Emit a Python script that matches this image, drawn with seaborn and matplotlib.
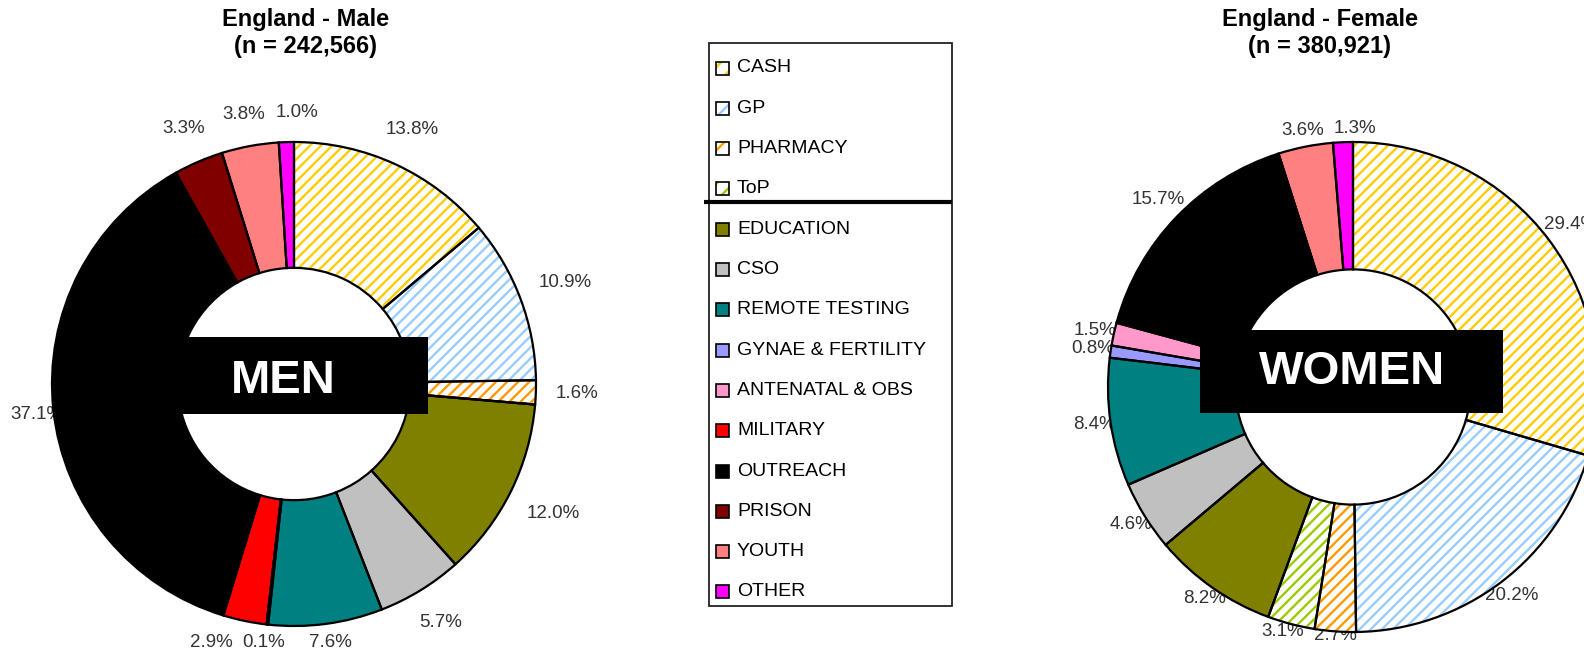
import matplotlib
matplotlib.use('Agg')
import matplotlib.pyplot as plt
from matplotlib.patches import Wedge, Rectangle
import numpy as np
import seaborn as sns

# Data
categories = ["CASH", "GP", "PHARMACY", "ToP", "EDUCATION", "CSO", "REMOTE TESTING",
              "GYNAE & FERTILITY", "ANTENATAL & OBS", "MILITARY", "OUTREACH",
              "PRISON", "YOUTH", "OTHER"]
male_pct = [13.8, 10.9, 1.6, 0.0, 12.0, 5.7, 7.6, 0.1, 0.0, 2.9, 37.1, 3.3, 3.8, 1.0]
female_pct = [29.4, 20.2, 2.7, 3.1, 8.2, 4.6, 8.4, 0.8, 1.5, 0.1, 15.7, 0.0, 3.6, 1.3]
female_unlabelled = ["MILITARY"]
male_title = "England - Male\n(n = 242,566)"
female_title = "England - Female\n(n = 380,921)"

colors = ["#FFCC00", "#99CCFF", "#FF9900", "#99CC00", "#808000", "#C0C0C0", "#008080",
          "#9999FF", "#FF99CC", "#FF0000", "#000000", "#800000", "#FF8080", "#FF00FF"]
hatched = ["CASH", "GP", "PHARMACY", "ToP"]

W, H = 1584, 653

sns.set_theme(style="white")
plt.rcParams['font.family'] = ['Liberation Sans', 'DejaVu Sans']
plt.rcParams['text.color'] = 'black'
plt.rcParams['hatch.linewidth'] = 1.7

fig = plt.figure(figsize=(W / 100, H / 100), dpi=100)
ax = fig.add_axes([0, 0, 1, 1])
renderer = fig.canvas.get_renderer()


def overlaps(a, b):
    return not (a[2] <= b[0] or b[2] <= a[0] or a[3] <= b[1] or b[3] <= a[1])


def donut(pcts, cx, cy, R, pad, lift=0, skip=()):
    # cy given from the top of the image
    c = (cx, H - cy)
    fills = ["white" if cat in hatched else col for cat, col in zip(categories, colors)]
    wedges, _ = ax.pie(pcts, colors=fills, radius=R, center=c, startangle=90,
                       counterclock=False, wedgeprops=dict(width=R * 0.52, linewidth=0))
    placed = []
    for wdg, cat, col, p in zip(wedges, categories, colors, pcts):
        if cat in hatched:
            ax.add_patch(Wedge(wdg.center, wdg.r, wdg.theta1, wdg.theta2, width=wdg.width,
                               facecolor='none', edgecolor=col, hatch='///',
                               linewidth=0, zorder=1.5))
        ax.add_patch(Wedge(wdg.center, wdg.r, wdg.theta1, wdg.theta2, width=wdg.width,
                           facecolor='none', edgecolor='black', linewidth=1.6, zorder=2))

        if p <= 0 or cat in skip:
            continue
        ang = np.deg2rad((wdg.theta1 + wdg.theta2) / 2)
        ux, uy = np.cos(ang), np.sin(ang)
        t = ax.text(0, 0, f"{p:.1f}%", ha='center', va='center', fontsize=13.5,
                    color='#333333', zorder=0.5)
        bb = t.get_window_extent(renderer)
        w, h = bb.width, bb.height
        r = R + pad + lift * max(uy, 0) + w / 2 * abs(ux) + h / 2 * abs(uy)
        x = c[0] + r * ux
        y = c[1] + r * uy
        x = min(max(x, w / 2 + 10), W + 40)
        y = min(max(y, h / 2 + 2), H - h / 2 - 2)
        # push sideways away from labels already placed
        for other in placed:
            ox, oy = (other[0] + other[2]) / 2, (other[1] + other[3]) / 2
            box = (x - w / 2 - 6, y - h / 2, x + w / 2 + 6, y + h / 2)
            if overlaps(box, other):
                side = 1 if x >= ox else -1
                x = ox + side * ((other[2] - other[0]) / 2 + w / 2 + 10)
        placed.append((x - w / 2, y - h / 2, x + w / 2, y + h / 2))
        t.set_position((x, y))
    return wedges


donut(male_pct, 294, 384, 242, 20)
donut(female_pct, 1353, 387, 245, -6, lift=10, skip=female_unlabelled)

# centre banners
ax.add_patch(Rectangle((170, H - 414), 258, 77, facecolor='black', edgecolor='none', zorder=3))
ax.text(283, H - 393, "MEN", ha='center', va='baseline', fontsize=34, fontweight='bold',
        color='white', zorder=4)
ax.add_patch(Rectangle((1200, H - 413), 303, 83, facecolor='black', edgecolor='none', zorder=3))
ax.text(1352, H - 384, "WOMEN", ha='center', va='baseline', fontsize=34, fontweight='bold',
        color='white', zorder=4)

# titles
ax.text(306, H - 8, male_title, ha='center', va='top', fontsize=17, fontweight='bold',
        linespacing=1.2)
ax.text(1320, H - 8, female_title, ha='center', va='top', fontsize=17, fontweight='bold',
        linespacing=1.2)

# legend box
ax.add_patch(Rectangle((709, H - 606), 243, 563, facecolor='white', edgecolor='#222222',
                       linewidth=1.3, zorder=3))
step = 40.3
for i, (cat, col) in enumerate(zip(categories, colors)):
    yc = H - (68 + i * step)
    if cat in hatched:
        ax.add_patch(Rectangle((716, yc - 6.5), 13, 13, facecolor='white', edgecolor=col,
                               hatch='//', linewidth=0, zorder=4))
        ax.add_patch(Rectangle((716, yc - 6.5), 13, 13, facecolor='none', edgecolor='black',
                               linewidth=1.2, zorder=5))
    else:
        ax.add_patch(Rectangle((716, yc - 6.5), 13, 13, facecolor=col, edgecolor='black',
                               linewidth=1.2, zorder=4))
    ax.text(737, yc, cat, ha='left', va='center', fontsize=14, color='black', zorder=5)
ax.plot([704, 952], [H - 202, H - 202], color='black', linewidth=3, zorder=6,
        solid_capstyle='butt')

ax.set_xlim(0, W)
ax.set_ylim(0, H)
ax.set_aspect('auto')
ax.axis('off')

plt.savefig("out.png", dpi=100)
plt.close()
